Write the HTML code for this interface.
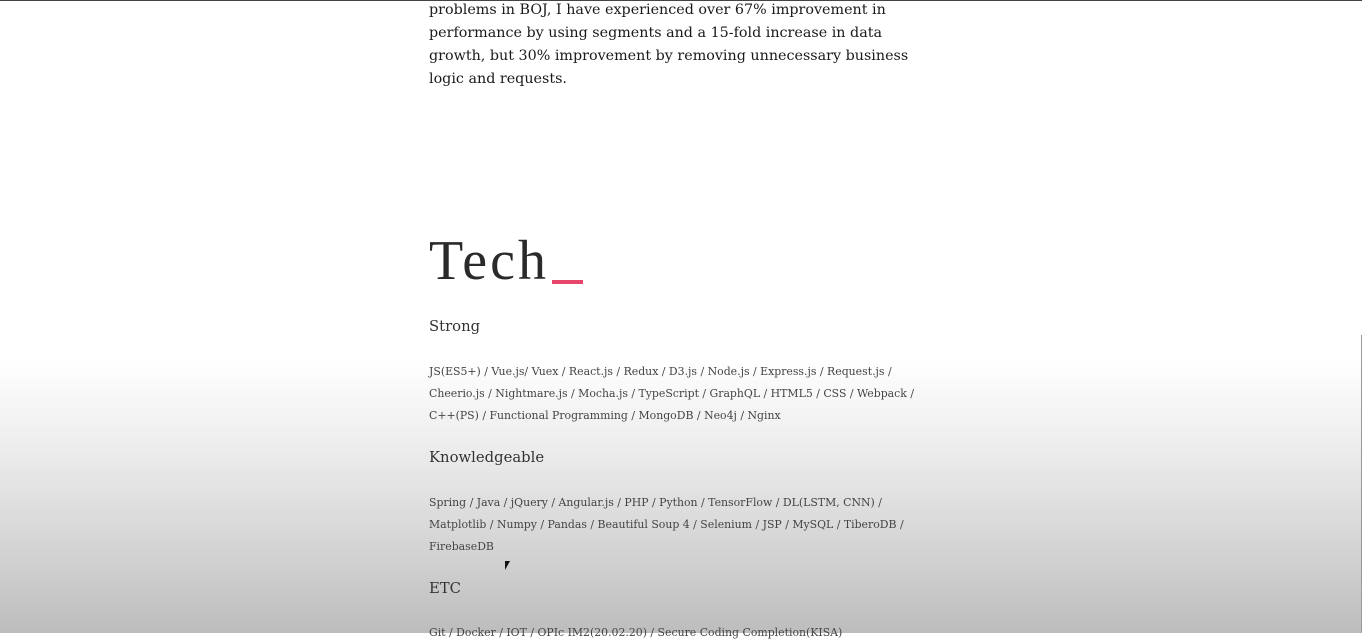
<!DOCTYPE html>
<html><head><meta charset="utf-8"><style>
html,body{margin:0;padding:0}
body{width:1362px;height:633px;overflow:hidden;position:relative;
background:linear-gradient(to bottom,#fff 0px,#fff 360px,#ececec 450px,#d6d6d6 540px,#bdbdbd 633px);
font-family:"DejaVu Serif","Liberation Serif",serif;color:#333}
.l{position:absolute;left:429px;white-space:nowrap}
.p{font-size:14.3px;color:#1a1a1a}
.s{font-size:10.9px;color:#444}
.h{font-size:14.8px;color:#333}
#topline{position:absolute;left:0;top:0;width:1362px;height:1px;background:#444}
#rightline{position:absolute;left:1361px;top:335px;width:1px;height:298px;background:#999}
</style></head><body>
<div id="topline"></div>
<div id="rightline"></div>
<div>
<div class="l p" style="top:2px">problems in BOJ, I have experienced over 67% improvement in</div>
<div class="l p" style="top:25px">performance by using segments and a 15-fold increase in data</div>
<div class="l p" style="top:48px">growth, but 30% improvement by removing unnecessary business</div>
<div class="l p" style="top:71px">logic and requests.</div>
</div>
<div class="l" style="top:229px;font-size:56px;color:#2a2a2a;font-family:'Liberation Serif',serif;letter-spacing:3px">Tech</div>
<div style="position:absolute;left:552px;top:280px;width:31px;height:4px;background:#e8456a"></div>
<div class="l h" style="top:318px">Strong</div>
<div>
<div class="l s" style="top:365px">JS(ES5+) / Vue.js/ Vuex / React.js / Redux / D3.js / Node.js / Express.js / Request.js /</div>
<div class="l s" style="top:387px">Cheerio.js / Nightmare.js / Mocha.js / TypeScript / GraphQL / HTML5 / CSS / Webpack /</div>
<div class="l s" style="top:409px">C++(PS) / Functional Programming / MongoDB / Neo4j / Nginx</div>
</div>
<div class="l h" style="top:449px">Knowledgeable</div>
<div>
<div class="l s" style="top:496px">Spring / Java / jQuery / Angular.js / PHP / Python / TensorFlow / DL(LSTM, CNN) /</div>
<div class="l s" style="top:518px">Matplotlib / Numpy / Pandas / Beautiful Soup 4 / Selenium / JSP / MySQL / TiberoDB /</div>
<div class="l s" style="top:540px">FirebaseDB</div>
</div>
<div class="l h" style="top:580px">ETC</div>
<div class="l s" style="top:626px">Git / Docker / IOT / OPIc IM2(20.02.20) / Secure Coding Completion(KISA)</div>
<div style="position:absolute;left:505px;top:561px;width:0;height:0;border-left:5px solid #111;border-bottom:9px solid transparent"></div>
</body></html>
